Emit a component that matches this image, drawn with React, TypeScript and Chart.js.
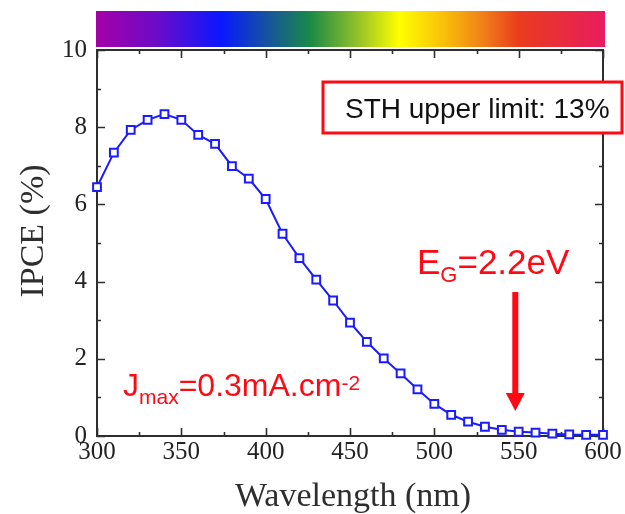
import { useEffect, useRef } from "react";
import { Chart, registerables } from "chart.js";

Chart.register(...registerables);

// IPCE spectrum, sampled every 10 nm
const wavelengths = [
  300, 310, 320, 330, 340, 350, 360, 370, 380, 390, 400, 410, 420, 430, 440, 450,
  460, 470, 480, 490, 500, 510, 520, 530, 540, 550, 560, 570, 580, 590, 600,
];
const ipce = [
  6.45, 7.34, 7.93, 8.19, 8.34, 8.19, 7.8, 7.57, 6.99, 6.67, 6.14, 5.24, 4.61, 4.05, 3.51, 2.94,
  2.44, 2.01, 1.62, 1.21, 0.83, 0.55, 0.37, 0.24, 0.16, 0.11, 0.09, 0.06, 0.04, 0.03, 0.03,
];
const xTicks = [300, 350, 400, 450, 500, 550, 600];
const yTicks = [0, 2, 4, 6, 8, 10];
const xMinorStep = 25;
const yMinorStep = 1;
const bandGapWavelength = 548;

const SERIF = '"Liberation Serif", "Times New Roman", serif';
const SANS = '"Liberation Sans", Arial, sans-serif';
const RED = "#ff0a14";
const BLUE = "#1b1bff";
const AXIS = "#2e2e2e";

// Visible-spectrum colour bar stops across the wavelength range
const spectrumStops: [number, string][] = [
  [0, "#a400a8"],
  [0.12, "#6a0cc8"],
  [0.245, "#0818ff"],
  [0.33, "#1650a4"],
  [0.42, "#1a8a46"],
  [0.52, "#9cc626"],
  [0.595, "#ffff00"],
  [0.68, "#f9c208"],
  [0.76, "#f08018"],
  [0.83, "#ea3c1c"],
  [1, "#e81c60"],
];

function drawRuns(
  ctx: CanvasRenderingContext2D,
  x: number,
  y: number,
  runs: { text: string; size: number; dy: number }[]
) {
  let cx = x;
  for (const r of runs) {
    ctx.font = `${r.size}px ${SANS}`;
    ctx.fillText(r.text, cx, y + r.dy);
    cx += ctx.measureText(r.text).width;
  }
}

const framePlugin = {
  id: "frameAndAnnotations",
  beforeDatasetsDraw(chart: any) {
    const { ctx, chartArea: a, scales } = chart;
    const xs = scales.x;
    const ys = scales.y;
    ctx.save();

    // spectrum colour bar above the plot
    const g = ctx.createLinearGradient(a.left, 0, a.right + 2, 0);
    for (const [p, c] of spectrumStops) g.addColorStop(p, c);
    ctx.fillStyle = g;
    ctx.fillRect(a.left - 1, 11, a.right - a.left + 3, 36);

    // frame
    ctx.strokeStyle = AXIS;
    ctx.lineWidth = 2;
    ctx.strokeRect(a.left, a.top, a.right - a.left, a.bottom - a.top);

    // inward ticks on all four sides
    ctx.lineWidth = 1.6;
    ctx.beginPath();
    for (let v = xs.min; v <= xs.max; v += xMinorStep) {
      const px = Math.round(xs.getPixelForValue(v)) + 0.5;
      const len = xTicks.includes(v) ? 8 : 4;
      ctx.moveTo(px, a.bottom);
      ctx.lineTo(px, a.bottom - len);
      ctx.moveTo(px, a.top);
      ctx.lineTo(px, a.top + len);
    }
    for (let v = ys.min; v <= ys.max; v += yMinorStep) {
      const py = Math.round(ys.getPixelForValue(v)) + 0.5;
      const len = yTicks.includes(v) ? 8 : 4;
      ctx.moveTo(a.left, py);
      ctx.lineTo(a.left + len, py);
      ctx.moveTo(a.right, py);
      ctx.lineTo(a.right - len, py);
    }
    ctx.stroke();

    // axis titles
    ctx.fillStyle = AXIS;
    ctx.font = `34px ${SERIF}`;
    ctx.textAlign = "center";
    ctx.textBaseline = "alphabetic";
    ctx.fillText("Wavelength (nm)", (a.left + a.right) / 2 + 3, 506);
    ctx.save();
    ctx.translate(43, 231);
    ctx.rotate(-Math.PI / 2);
    ctx.fillText("IPCE (%)", 0, 0);
    ctx.restore();
    ctx.restore();
  },
  afterDraw(chart: any) {
    const { ctx, scales } = chart;
    const xs = scales.x;
    const ys = scales.y;
    ctx.save();
    ctx.textAlign = "left";
    ctx.textBaseline = "alphabetic";

    // STH box
    ctx.fillStyle = "#ffffff";
    ctx.fillRect(323, 82, 299, 51);
    ctx.strokeStyle = RED;
    ctx.lineWidth = 3;
    ctx.strokeRect(323, 82, 299, 51);
    ctx.fillStyle = "#111111";
    ctx.font = `28px ${SANS}`;
    ctx.fillText("STH upper limit: 13%", 345, 118);

    // band gap label and arrow
    ctx.fillStyle = RED;
    drawRuns(ctx, 417, 274, [
      { text: "E", size: 35, dy: 0 },
      { text: "G", size: 22, dy: 8 },
      { text: "=2.2eV", size: 35, dy: 0 },
    ]);
    const ax = xs.getPixelForValue(bandGapWavelength);
    const yTop = ys.getPixelForValue(3.73);
    const yTip = ys.getPixelForValue(0.65);
    const headLen = 18;
    ctx.fillRect(ax - 3, yTop, 6, yTip - yTop - headLen + 2);
    ctx.beginPath();
    ctx.moveTo(ax - 9.5, yTip - headLen);
    ctx.lineTo(ax + 9.5, yTip - headLen);
    ctx.lineTo(ax, yTip);
    ctx.closePath();
    ctx.fill();

    // max photocurrent label
    drawRuns(ctx, 123, 396, [
      { text: "J", size: 32, dy: 0 },
      { text: "max", size: 21, dy: 8 },
      { text: "=0.3mA.cm", size: 32, dy: 0 },
      { text: "-2", size: 21, dy: -6 },
    ]);
    ctx.restore();
  },
};

export default function App() {
  const canvasRef = useRef<HTMLCanvasElement | null>(null);

  useEffect(() => {
    const canvas = canvasRef.current;
    if (!canvas) return;
    const chart = new Chart(canvas, {
      type: "line",
      data: {
        datasets: [
          {
            data: wavelengths.map((w, i) => ({ x: w, y: ipce[i] })),
            borderColor: BLUE,
            borderWidth: 2,
            backgroundColor: "#ffffff",
            pointStyle: "rect",
            pointRadius: 5.5,
            pointBorderWidth: 2,
            pointBorderColor: BLUE,
            pointBackgroundColor: "#ffffff",
            tension: 0,
            clip: false,
          },
        ],
      },
      options: {
        animation: false,
        responsive: false,
        devicePixelRatio: 1,
        layout: { padding: { top: 50, right: 22, left: 0, bottom: 0 } },
        plugins: { legend: { display: false }, tooltip: { enabled: false } },
        scales: {
          x: {
            type: "linear",
            min: 300,
            max: 600,
            grid: { display: false, drawTicks: false },
            border: { display: false },
            ticks: {
              color: "#222222",
              font: { family: SERIF, size: 25 },
              padding: 1,
              maxRotation: 0,
            },
            afterBuildTicks: (s: any) => {
              s.ticks = xTicks.map((v) => ({ value: v }));
            },
            afterFit: (s: any) => {
              s.height = 78;
            },
          },
          y: {
            type: "linear",
            min: 0,
            max: 10,
            grid: { display: false, drawTicks: false },
            border: { display: false },
            ticks: {
              color: "#222222",
              font: { family: SERIF, size: 25 },
              padding: 10,
            },
            afterBuildTicks: (s: any) => {
              s.ticks = yTicks.map((v) => ({ value: v }));
            },
            afterFit: (s: any) => {
              s.width = 97;
            },
          },
        },
      },
      plugins: [framePlugin],
    });
    return () => chart.destroy();
  }, []);

  return (
    <div
      style={{
        position: "absolute",
        left: 0,
        top: 0,
        width: 625,
        height: 514,
        background: "#ffffff",
      }}
    >
      <canvas ref={canvasRef} width={625} height={514} style={{ width: 625, height: 514 }} />
    </div>
  );
}
